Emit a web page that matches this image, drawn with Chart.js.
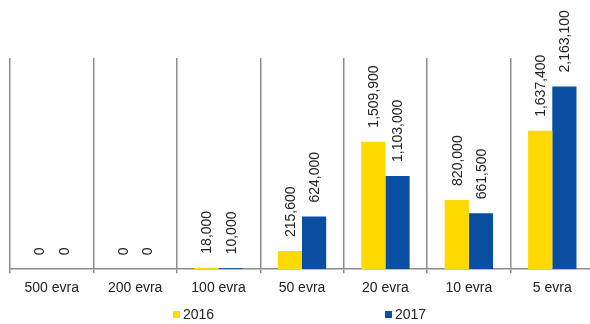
<!DOCTYPE html>
<html>
<head>
<meta charset="utf-8">
<script src="https://cdn.jsdelivr.net/npm/chart.js@4"></script>
<style>
  html, body { margin: 0; padding: 0; background: #fff; overflow: hidden; }
  #wrap { position: relative; width: 594px; height: 324px; }
  .leg { position: absolute; top: 306px; font: 14px "Liberation Sans", Arial, sans-serif; color: #222; }
  .leg i { display: inline-block; width: 7px; height: 7px; margin-right: 3px; vertical-align: 1px; }
</style>
</head>
<body>
<div id="wrap">
  <canvas id="grafico" width="594" height="324"></canvas>
</div>
<script>
// apoeni i broj komada po godinama
const apoeni = ['500 evra', '200 evra', '100 evra', '50 evra', '20 evra', '10 evra', '5 evra']
const god2016 = [0, 0, 18000, 215600, 1509900, 820000, 1637400]
const god2017 = [0, 0, 10000, 624000, 1103000, 661500, 2163100]
const godine = ['2016', '2017']
const boje = ['#FFDA00', '#0A4EA2']

const fonte = '"Liberation Sans", Arial, sans-serif'

// vrijednosti iznad stubaca, okrenute za 90 stepeni
const natpisi = {
    id: 'natpisi',
    afterDatasetsDraw(chart) {
        const ctx = chart.ctx
        ctx.save()
        ctx.font = '14px ' + fonte
        ctx.fillStyle = '#222'
        ctx.textAlign = 'left'
        ctx.textBaseline = 'middle'
        chart.data.datasets.forEach((ds, i) => {
            chart.getDatasetMeta(i).data.forEach((bar, j) => {
                const txt = ds.data[j].toLocaleString('en-US')
                ctx.save()
                ctx.translate(bar.x + 1, bar.y - 14)
                ctx.rotate(-Math.PI / 2)
                ctx.fillText(txt, 0, 0)
                ctx.restore()
            })
        })
        ctx.restore()
    }
}

const ctx = document.getElementById('grafico').getContext('2d')
const grafik = new Chart(ctx, {
    type: 'bar',
    data: {
        labels: apoeni,
        datasets: [
            { label: godine[0], data: god2016, backgroundColor: boje[0] },
            { label: godine[1], data: god2017, backgroundColor: boje[1] }
        ]
    },
    options: {
        responsive: false,
        animation: false,
        layout: { padding: { top: 58, left: 10, right: 0, bottom: 20 } },
        datasets: { bar: { categoryPercentage: 0.58, barPercentage: 1 } },
        plugins: { legend: { display: false }, tooltip: { enabled: false } },
        scales: {
            x: {
                grid: { offset: true, color: '#8c8c8c', lineWidth: 1.5, tickLength: 4, drawTicks: true },
                border: { color: '#8c8c8c', width: 1.5 },
                ticks: { color: '#222', font: { family: fonte, size: 14 }, padding: 7, maxRotation: 0 }
            },
            y: {
                display: false,
                min: 0,
                max: 2500000
            }
        }
    },
    plugins: [natpisi]
})

// legenda ispod grafika
const pozicije = [173, 385]
godine.forEach((g, i) => {
    const el = document.createElement('div')
    el.className = 'leg'
    el.style.left = pozicije[i] + 'px'
    el.innerHTML = '<i style="background:' + boje[i] + '"></i>' + g
    document.getElementById('wrap').appendChild(el)
})
</script>
</body>
</html>
